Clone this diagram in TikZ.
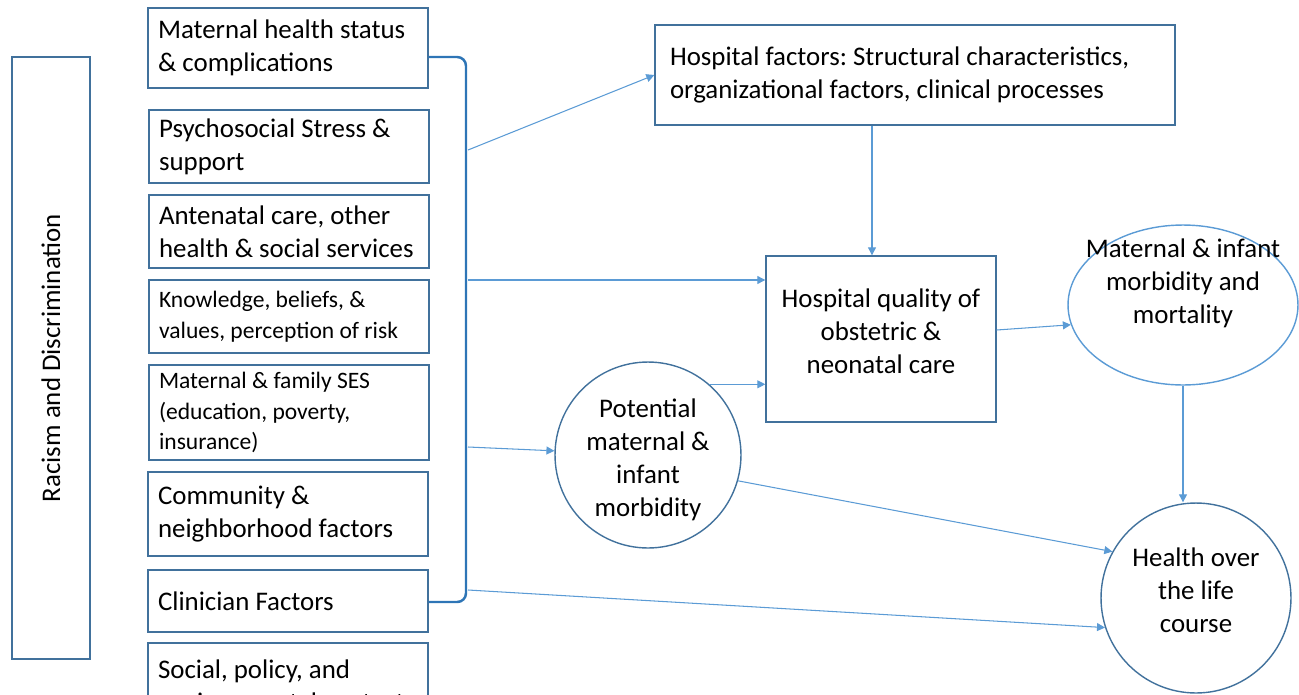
\documentclass[tikz,border=0pt]{standalone}
\usepackage{fontspec}
\setmainfont{Carlito}
\usetikzlibrary{arrows.meta,shapes.geometric}
\definecolor{boxline}{RGB}{65,113,156}
\definecolor{arrline}{RGB}{91,155,213}
\definecolor{bracketline}{RGB}{46,117,182}
\frenchspacing
\begin{document}
\begin{tikzpicture}[x=0.02cm, y=-0.02cm,
            factor/.style={draw=boxline, line width=0.8pt, align=flush left, inner xsep=0.2cm,
                text width=5.2cm, minimum height=#1, font=\fontsize{15.3}{18.7}\selectfont},
            smallfactor/.style={factor=#1, font=\fontsize{13.4}{17.6}\selectfont},
            bigtext/.style={font=\fontsize{15.3}{18.7}\selectfont},
            flow/.style={draw=arrline, line width=0.6pt, -{Triangle[length=1.6mm, width=1.6mm]}}]
            \clip (0,0) rectangle (1299,694);
            \node[draw=boxline, line width=0.8pt, rotate=90, minimum width=12.04cm, minimum height=1.56cm,
                bigtext] (racism) at (51,358) {Racism and Discrimination};
            \node[factor=1.6cm] (m1) at (288,48) {Maternal health status\\\& complications};
            \node[factor=1.46cm] (m2) at (289,146.5) {Psychosocial Stress \&\\support};
            \node[factor=1.46cm] (m3) at (289,231.5) {Antenatal care, other\\health \& social services};
            \node[smallfactor=1.46cm] (m4) at (289,316.5) {Knowledge, beliefs, \&\\values, perception of risk};
            \node[smallfactor=1.9cm] (m5) at (289,412.5) {Maternal \& family SES\\(education, poverty,\\insurance)};
            \node[factor=1.68cm] (m6) at (288,514) {Community \&\\neighborhood factors};
            \node[factor=1.24cm] (m7) at (288,601) {Clinician Factors};
            \node[factor=1.7cm] (m8) at (288,685.5) {Social, policy, and\\environmental context};
            \coordinate (bt) at (466,57);
            \coordinate (bb) at (466,602);
            \draw[bracketline, line width=1.4pt, rounded corners=5pt] (m1.east |- bt) -- (bt) -- (bb) -- (m7.east |- bb);
            \node[draw=boxline, line width=0.8pt, align=flush left, text width=9.8cm, inner xsep=0.3cm,
                minimum height=2cm, bigtext] (hf) at (915,75)
                {Hospital factors: Structural characteristics,\\organizational factors, clinical processes};
            \node[draw=boxline, line width=0.8pt, align=center, minimum width=4.6cm, minimum height=3.32cm,
                bigtext, label={[bigtext, align=center, yshift=0.16cm]center:{Hospital quality of\\obstetric \&\\neonatal care}}]
                (hq) at (881,339) {};
            \node[draw=arrline, line width=0.8pt, ellipse, inner sep=0pt, minimum width=4.6cm, minimum height=3.2cm,
                label={[bigtext, align=center, yshift=0.44cm]center:{Maternal \& infant\\morbidity and\\mortality}}]
                (mm) at (1183,305) {};
            \node[draw=boxline, line width=0.8pt, circle, inner sep=0pt, minimum size=3.72cm,
                label={[bigtext, align=center, yshift=-0.1cm]center:{Potential\\maternal \&\\infant\\morbidity}}]
                (pm) at (648,455) {};
            \node[draw=boxline, line width=0.8pt, circle, inner sep=0pt, minimum size=3.8cm,
                label={[bigtext, align=center, yshift=0.16cm]center:{Health over\\the life\\course}}]
                (hl) at (1196,598) {};
            \coordinate (s1) at (468,150);
            \coordinate (s2) at (468,280);
            \coordinate (s3) at (468,447);
            \coordinate (s4) at (468,590);
            \draw[flow] (s1) -- (hf.west);
            \draw[flow] (s2) -- (s2 -| hq.west);
            \draw[flow] (s3) -- (pm);
            \draw[flow] (s4) -- (hl.198);
            \draw[flow] ([xshift=-0.18cm]hq.north |- hf.south) -- ([xshift=-0.18cm]hq.north);
            \draw[flow] (pm.49) -- (pm.49 -| hq.west);
            \draw[flow] (pm.-16) -- (hl.151);
            \draw[flow] ([yshift=0.18cm]hq.east) -- (mm.190);
            \draw[flow] (mm.south) -- (mm.south |- hl.north);
        \end{tikzpicture}
\end{document}
